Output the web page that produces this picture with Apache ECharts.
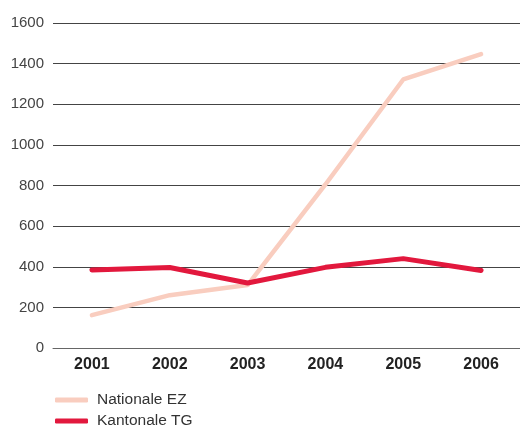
<!DOCTYPE html>
<html><head><meta charset="utf-8">
<script src="https://cdn.jsdelivr.net/npm/echarts@6/dist/echarts.min.js"></script>
<style>html,body{margin:0;padding:0;background:#fff}#c{width:520px;height:426px}</style>
</head><body><div id="c"></div>
<script>
const categories = ['2001','2002','2003','2004','2005','2006'];
const nationaleEZ = [162, 260, 310, 805, 1322, 1447];
const kantonaleTG = [384, 396, 320, 397, 440, 382];
const seriesNames = ['Nationale EZ','Kantonale TG'];
const yTicks = [0,200,400,600,800,1000,1200,1400,1600];

const font = 'Liberation Sans, Arial, sans-serif';
const legendBase = {
  orient:'horizontal', left:55, itemWidth:33, itemHeight:5, padding:0,
  icon:'roundRect',
  textStyle:{fontFamily:font, fontSize:15.5, color:'#333', lineHeight:16, padding:[0,0,0,4]}
};
const chart = echarts.init(document.getElementById('c'), null, {renderer:'canvas'});
chart.setOption({
  animation:false,
  backgroundColor:'#fff',
  grid:{left:53, right:-7, top:23, bottom:78, containLabel:false},
  legend:[
    Object.assign({}, legendBase, {top:392, data:[seriesNames[0]]}),
    Object.assign({}, legendBase, {top:413, data:[seriesNames[1]]})
  ],
  xAxis:{
    type:'category', data:categories, boundaryGap:true,
    axisLine:{show:true, lineStyle:{color:'#666', width:1}},
    axisTick:{show:false},
    axisLabel:{fontFamily:font, fontSize:16, fontWeight:'bold', color:'#222', margin:9}
  },
  yAxis:{
    type:'value', min:yTicks[0], max:yTicks[yTicks.length-1], interval:200,
    axisLine:{show:false}, axisTick:{show:false},
    splitLine:{show:true, lineStyle:{color:'#444', width:1}},
    axisLabel:{fontFamily:font, fontSize:15, color:'#444', margin:9, formatter:v=>String(v)}
  },
  series:[
    {name:seriesNames[0], type:'line', data:nationaleEZ, symbol:'none', lineStyle:{color:'#f9cdbf', width:4.5, cap:'round'}, itemStyle:{color:'#f9cdbf'}},
    {name:seriesNames[1], type:'line', data:kantonaleTG, symbol:'none', lineStyle:{color:'#e2183d', width:5, cap:'round'}, itemStyle:{color:'#e2183d'}}
  ]
});
</script></body></html>
